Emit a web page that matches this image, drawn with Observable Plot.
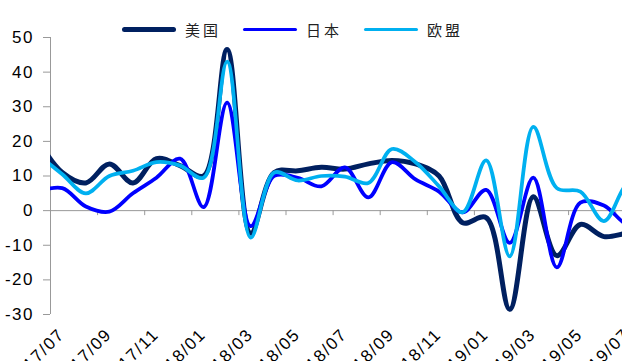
<!DOCTYPE html>
<html><head><meta charset="utf-8">
<script src="https://cdn.jsdelivr.net/npm/d3@7"></script>
<script src="https://cdn.jsdelivr.net/npm/@observablehq/plot@0.6"></script>
<style>
html,body{margin:0;padding:0;overflow:hidden;background:#fff;width:622px;height:361px;}
#wrap{position:relative;width:622px;height:361px;overflow:hidden;}
#legend{position:absolute;left:122px;top:19px;height:21px;display:flex;align-items:center;font-family:"Noto Sans CJK SC";font-size:15px;color:#222;z-index:2}
.item{display:flex;align-items:center;margin-right:22px}
.sw{width:54px;border-radius:3px;margin-right:9px}
.lab{letter-spacing:3px;line-height:21px}
#chart svg{display:block}
</style></head><body>
<div id="wrap"><div id="legend"></div><div id="chart"></div></div>
<script>
// months since 2017/07 (data points sit mid-month)
const months = d3.range(-1, 26);
const us = [20, 11, 8, 13.5, 8, 15, 13, 10, 46.5, -6.5, 11, 11.5, 12.5, 12, 13.5, 14.5, 13.5, 10, -3.5, -2, -28.5, 4, -13, -4, -7.5, -6.5, -6];
const jp = [5.5, 6.5, 1.2, -0.3, 5, 9.5, 15, 1, 31.2, -4.5, 10, 9.5, 7, 12.5, 3.8, 14, 9, 5.5, -0.5, 6, -9.3, 9.5, -16.4, 2.3, 1.5, -4, -3];
const eu = [16, 10.5, 5, 10, 11.5, 14, 13, 9.5, 43, -7.8, 11, 8.7, 10, 9.8, 8, 17.8, 14, 7, -0.5, 14.5, -13.2, 24.2, 6.5, 5.5, -3, 8, 11];
const seriesNames = ["美国", "日本", "欧盟"];
const seriesValues = [us, jp, eu];
const seriesColors = ["#002060", "#0000ff", "#00b0f0"];
const seriesWidths = [5, 3.75, 3.75];
const tickLabels = ["2017/07","2017/09","2017/11","2018/01","2018/03","2018/05","2018/07","2018/09","2018/11","2019/01","2019/03","2019/05","2019/07"];
const yTicks = [-30, -20, -10, 0, 10, 20, 30, 40, 50];

const rows = [];
seriesNames.forEach((s, k) => months.forEach((m, i) => rows.push({s, m: m + 0.5, v: seriesValues[k][i]})));
const tickMonths = tickLabels.map((d, i) => i * 2);

// legend
const lg = document.getElementById("legend");
seriesNames.forEach((s, k) => {
  const it = document.createElement("div"); it.className = "item";
  const sw = document.createElement("div"); sw.className = "sw";
  sw.style.height = seriesWidths[k] + "px"; sw.style.background = seriesColors[k];
  const lb = document.createElement("span"); lb.className = "lab"; lb.textContent = s;
  it.appendChild(sw); it.appendChild(lb); lg.appendChild(it);
});

const chart = Plot.plot({
  width: 700, height: 400,
  marginLeft: 50, marginRight: 37.7, marginTop: 37, marginBottom: 86,
  x: {domain: [0, 26], axis: null},
  y: {domain: [-30, 50], axis: null},
  style: {fontFamily: "'Liberation Sans', Arial, sans-serif", fontSize: "17px", color: "#000", background: "transparent", letterSpacing: "1.5px"},
  marks: [
    Plot.ruleX([0], {stroke: "#999", strokeWidth: 1}),
    Plot.ruleY([0], {stroke: "#999", strokeWidth: 1}),
    Plot.ruleX(tickMonths, {x: d => d, y1: 0, y2: 0, insetBottom: -5, stroke: "#999"}),
    Plot.axisY({ticks: yTicks, label: null, tickSize: 7, tickPadding: 9.5, stroke: "#999", fill: "#000", fontSize: 17, tickFormat: d => String(d)}),
    Plot.text(tickLabels, {x: (d, i) => tickMonths[i], frameAnchor: "bottom", text: d => d, rotate: -45, textAnchor: "end", lineAnchor: "bottom", dx: 15, dy: 21, fontSize: 17, fill: "#000"}),
    ...seriesNames.map((s, k) => Plot.line(rows.filter(r => r.s === s), {
      x: "m", y: "v", stroke: seriesColors[k], strokeWidth: seriesWidths[k],
      curve: "catmull-rom", clip: true, strokeLinejoin: "round", strokeLinecap: "round"
    }))
  ]
});
chart.style.maxWidth = "none";
chart.style.width = "700px";
chart.style.height = "400px";
document.getElementById("chart").appendChild(chart);
</script>
</body></html>
